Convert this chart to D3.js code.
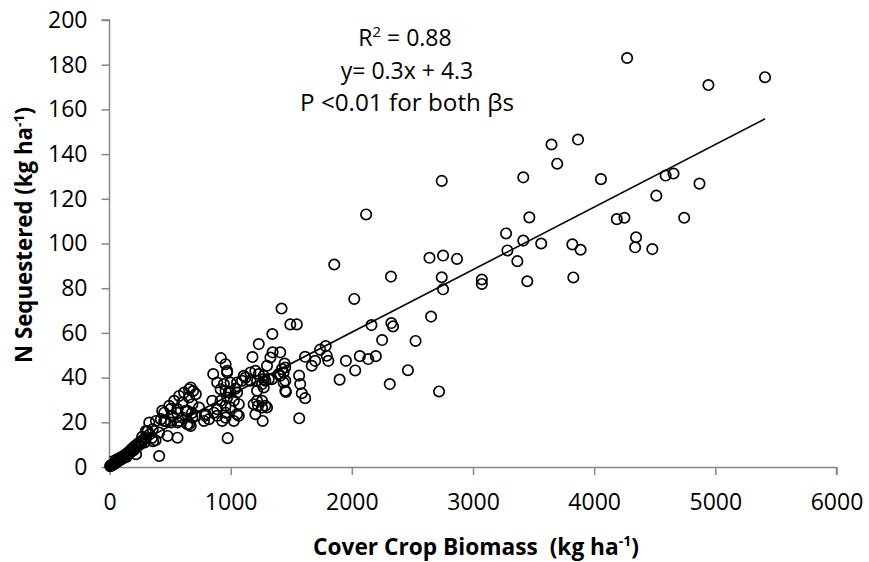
<!DOCTYPE html>
<html>
<head>
<meta charset="utf-8">
<script src="https://cdn.jsdelivr.net/npm/d3@7"></script>
<style>
  html, body { margin: 0; padding: 0; background: #fff; }
  svg { display: block; }
  text { font-family: "Open Sans", Lato, sans-serif; fill: #000; }
</style>
</head>
<body>
<svg id="chart" width="869" height="562"></svg>
<script>
// ---- data ----
const biomass = [
  // low band 0-450
  5,12,18,22,28,33,38,42,48,52,58,63,68,74,80,86,92,98,105,112,118,125,132,140,146,152,160,168,175,182,190,198,205,215,225,235,245,255,265,278,290,
  219,410,300,315,328,356,383,410,424,435,350,380,330,360,300,270,240,200,170,140,
  // 450-850
  452,452,465,479,493,506,506,520,534,558,561,561,561,575,575,602,602,616,630,642,643,657,657,670,670,681,684,684,712,714,739,780,788,794,821,848,657,690,
  // 850-1150
  856,919,958,971,889,944,999,958,917,999,971,917,1026,958,889,862,958,1026,930,889,975,1067,1067,985,1053,1053,1094,1108,1122,1053,999,958,971,1040,
  // 1150-1650
  1163,1163,1204,1218,1232,1273,1259,1286,1340,1409,1450,1437,1190,1226,1259,1286,1264,1204,1218,1259,1300,1273,1218,1451,1437,1314,1273,1396,1423,1300,1328,1180,1232,1344,1346,1409,1420,1492,1546,1445,1456,1451,1565,1574,1587,1615,1566,1614,
  // 1650-2900
  1669,1697,1738,1784,1793,1806,1855,1899,1951,2020,2028,2066,2118,2135,2162,2198,2250,2313,2323,2326,2340,2463,2526,2641,2654,2720,2742,2742,2753,2753,2868,
  // 3000-5500
  3073,3073,3273,3284,3366,3415,3415,3448,3465,3563,3648,3695,3820,3828,3867,3888,4056,4187,4250,4272,4338,4346,4480,4513,4590,4655,4743,4869,4943,5410
];
const nitrogen = [
  0.4,0.6,1.0,0.8,1.3,1.1,1.6,2.0,1.7,2.4,2.1,2.8,2.5,3.2,2.9,3.6,3.3,4.0,3.7,4.6,4.2,5.2,4.8,5.8,5.4,6.5,6.0,7.2,6.6,8.0,7.4,8.8,8.2,9.6,9.0,10.5,9.8,11.4,10.6,12.2,11.0,
  5.7,4.9,16.1,16.1,19.9,16.9,20.6,15.4,21.4,25.1,13.0,12.0,14.5,11.5,13.0,13.5,10.0,7.5,7.0,4.5,
  24.3,20.6,20.6,13.9,27.4,26.0,19.9,22.9,29.6,24.2,25.9,19.9,13.1,31.8,20.6,28.8,22.1,33.3,25.1,19.1,25.1,31.1,19.1,35.6,18.4,24.2,28.1,22.1,32.6,22.9,26.6,20.6,22.9,23.6,21.4,29.6,34.8,34.0,
  41.6,48.7,46.0,42.3,37.8,37.1,37.8,34.1,34.8,33.3,31.1,29.6,29.6,27.4,25.9,24.3,22.1,20.6,20.6,22.9,12.9,28.1,22.9,33.3,33.3,37.8,38.6,40.8,40.0,23.6,26.6,24.3,43.0,35.0,
  42.3,38.6,43.0,38.6,41.6,39.3,37.1,38.6,39.3,40.8,44.5,42.3,28.1,27.4,26.6,27.4,20.6,23.6,29.6,29.6,26.6,35.6,34.1,34.1,37.8,39.3,40.8,41.6,43.8,45.3,49.0,49.2,55.0,59.5,51.3,51.3,70.9,63.8,63.8,46.3,33.6,38.6,40.9,37.1,33.0,30.8,21.8,49.3,
  45.3,47.5,52.5,54.1,49.8,47.5,90.6,39.1,47.5,75.2,43.2,49.6,113.0,48.3,63.5,49.6,56.8,37.1,85.2,64.4,62.9,43.3,56.4,93.6,67.3,33.8,128.0,84.9,94.6,79.5,93.1,
  83.9,81.9,104.5,96.9,92.1,101.3,129.6,83.1,111.7,100.0,144.3,135.7,99.6,84.8,146.5,97.2,128.8,110.9,111.5,183.0,98.3,102.8,97.5,121.4,130.4,131.3,111.5,126.8,170.9,174.4
];
const xTicks = [0, 1000, 2000, 3000, 4000, 5000, 6000];
const yTicks = [0, 20, 40, 60, 80, 100, 120, 140, 160, 180, 200];
const fitX = [0, 5410];
const fitSlope = 0.028, fitIntercept = 4.3;
const annotationLines = ["y= 0.3x + 4.3", "P <0.01 for both \u03b2s"];

// ---- drawing ----
const svg = d3.select("#chart");
const x = d3.scaleLinear().domain([0, 6000]).range([109.5, 836.5]);
const y = d3.scaleLinear().domain([0, 200]).range([467, 20]);
const axisColor = "#868686";
const tickFont = 23;

const gx = svg.append("g").attr("transform", `translate(0,${y(0)})`)
  .call(d3.axisBottom(x).tickValues(xTicks).tickSize(8).tickPadding(19).tickFormat(d3.format("d")));
const gy = svg.append("g").attr("transform", `translate(${x(0)},0)`)
  .call(d3.axisLeft(y).tickValues(yTicks).tickSize(8).tickPadding(14).tickFormat(d3.format("d")));
[gx, gy].forEach(g => {
  g.select(".domain").attr("stroke", axisColor).attr("stroke-width", 1.5);
  g.selectAll(".tick line").attr("stroke", axisColor).attr("stroke-width", 1.5);
  g.selectAll(".tick text").attr("font-size", tickFont).attr("fill", "#000")
    .attr("font-family", "'Open Sans', Lato, sans-serif");
});
gx.select(".domain").attr("d", `M${x(0)},0.5H${x(6000)}V8`);
gy.select(".domain").attr("d", `M-8,${y(200)}H0V${y(0)}`);

// points
const pts = biomass.map((b, i) => [b, nitrogen[i]]);
svg.append("g").selectAll("circle").data(pts).join("circle")
  .attr("cx", d => x(d[0])).attr("cy", d => y(d[1])).attr("r", 5.2)
  .attr("fill", "none").attr("stroke", "#000").attr("stroke-width", 1.7);

// fit line
svg.append("line")
  .attr("x1", x(fitX[0])).attr("y1", y(fitSlope * fitX[0] + fitIntercept))
  .attr("x2", x(fitX[1])).attr("y2", y(fitSlope * fitX[1] + fitIntercept))
  .attr("stroke", "#000").attr("stroke-width", 1.6);

// helper: scale a text element's font so it spans a target width
function fitWidth(sel, target) {
  const n = sel.node();
  const w = n.getComputedTextLength();
  const k = target / w;
  sel.attr("font-size", +sel.attr("font-size") * k);
  sel.selectAll("tspan").each(function () {
    const t = d3.select(this);
    if (t.attr("font-size")) t.attr("font-size", +t.attr("font-size") * k);
    if (t.attr("dy")) t.attr("dy", +t.attr("dy") * k);
  });
}

// annotation
const ann = svg.append("text").attr("x", 405).attr("y", 46).attr("text-anchor", "middle").attr("font-size", 23);
ann.append("tspan").text("R");
ann.append("tspan").text("2").attr("font-size", 15).attr("dy", -9);
ann.append("tspan").text(" = 0.88").attr("dy", 9);
annotationLines.forEach((t, i) => {
  const s = svg.append("text").attr("x", 407).attr("y", 79 + i * 32).attr("text-anchor", "middle")
    .attr("font-size", 23).text(t);
  if (i === 1) fitWidth(s, 214);
});

// axis titles
const xt = svg.append("text").attr("x", 476).attr("y", 555).attr("text-anchor", "middle")
  .attr("font-size", 21).attr("font-weight", "bold");
xt.append("tspan").text("Cover Crop Biomass\u00a0\u00a0(kg ha");
xt.append("tspan").text("-1").attr("font-size", 13).attr("dy", -8);
xt.append("tspan").text(")").attr("dy", 8);
fitWidth(xt, 326);

const yt = svg.append("text").attr("transform", "translate(32,235) rotate(-90)").attr("text-anchor", "middle")
  .attr("font-size", 21).attr("font-weight", "bold");
yt.append("tspan").text("N Sequestered (kg ha");
yt.append("tspan").text("-1").attr("font-size", 13).attr("dy", -8);
yt.append("tspan").text(")").attr("dy", 8);
fitWidth(yt, 256);
</script>
</body>
</html>
